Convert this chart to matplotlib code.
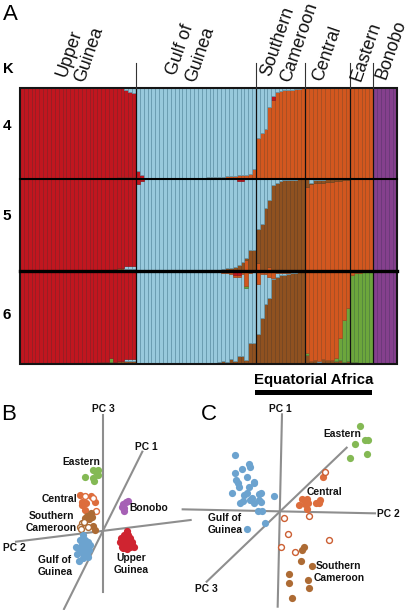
import matplotlib
matplotlib.use('Agg')
import matplotlib.pyplot as plt
from matplotlib.lines import Line2D
from matplotlib.patches import Rectangle
import numpy as np

plt.rcParams['font.family'] = ['Liberation Sans', 'DejaVu Sans']

W, H = 410, 610

# population sizes and the labels above panel A
group_sizes = [30, 31, 13, 11, 6, 6]
group_edges = [20, 136, 256, 305, 350, 373, 397]
k_labels = ['4', '5', '6']

# K = 4, ancestry fractions per individual (blue is what is left)
k4_orange = ([0] * 25 + [.01] * 5
             + [.005] * 18 + [.01, .01, .01, .015, .015, .02, .02, .025, .03, .03, .035, .04, .1]
             + [.44, .50, .55, .79, .87, .96, .97, .98, .98, .98, .985, .99, .995]
             + [.995] * 11 + [1] * 6 + [0] * 6)
k4_red = ([1] * 25 + [.99, .99, .97, .95, .93]
          + [.07, .03] + [0] * 29
          + [0, 0, 0, 0, .04] + [0] * 8
          + [0] * 11 + [0] * 6 + [0] * 6)
k4_purple = [0] * 91 + [1] * 6

# K = 5
k5_orange = ([0] * 56 + [0, 0, .11, 0, 0]
             + [.08, 0, 0, .03] + [0] * 9
             + [.91, .945, .955, .96, .96, .965, .97, .975, .98, .985, .99]
             + [1] * 6 + [0] * 6)
k5_brown = ([0] * 24 + [.01, .02, .02, .01, .01, .01]
            + [0] * 21 + [.005, .01, .02, .02, .03, .05, .09, .02, .22, .22]
            + [.37, .505, .68, .74, .93, .96, .98, .985, .99, .99, .99, .995, .995]
            + [.09, .01, .03, .03, .03, .03, .025, .02, .015, .01, .01]
            + [0] * 6 + [0] * 6)
k5_red = ([1] * 24 + [.99, .98, .98, .96, .96, .96]
          + [.05, .02] + [0] * 24 + [.02, .02] + [0] * 3
          + [0] * 13 + [0] * 11 + [0] * 6 + [0] * 6)
k5_purple = [0] * 91 + [1] * 6

# K = 6
k6_brown = ([0] * 18 + [.005, .005, .01, .01, .01, .01, .015, .02, .02, .02, .02, .02]
            + [0] * 20 + [.005, .01, .02, .01, .04, .02, .08, .08, .03, .22, .22]
            + [.32, .50, .65, .71, .92, .95, .97, .97, .98, .985, .99, .995, 1]
            + [.09, .02, .03, .01, .04, .03, .03, .02, .03, .01, .02]
            + [.01, .01, .005, 0, 0, 0] + [0] * 6)
k6_green = ([0] * 23 + [.04] + [0] * 6
            + [0] * 28 + [.03, 0, 0]
            + [0] * 13
            + [.02, 0, 0, 0, 0, 0, 0, .03, .24, .46, .58]
            + [.96, .975, .985, .995, 1, 1] + [0] * 6)
k6_orange = ([0] * 30
             + [0] * 22 + [.01, .01, .02, .02, .02, .02, .15, .01, 0]
             + [.135, .02, .02, .05, .07, .015, .01, .01, .01, .005, 0, 0, 0]
             + [.89, .98, .97, .975, .96, .97, .97, .95, .73, .53, .40]
             + [.03, .015, .01, .005, 0, 0] + [0] * 6)
k6_red = ([1] * 18 + [.995, .995, .99, .99, .99, .95, .985, .98, .98, .96, .96, .96]
          + [0] * 25 + [.035, .035] + [0] * 4
          + [0] * 13 + [0] * 11 + [0] * 6 + [0] * 6)
k6_purple = [0] * 91 + [1] * 6

c_red, c_blue, c_orange = '#C1161F', '#98C9DC', '#D2571F'
c_brown, c_green, c_purple = '#8F5120', '#6CA63C', '#85408D'
edge_of = {c_red: '#8E1B20', c_blue: '#5F93A8', c_orange: '#A04A1E',
           c_brown: '#6F421E', c_green: '#4F803A', c_purple: '#653373'}

b_eastern = [(256, 246), (280, 225), (293, 225), (295, 240), (278, 250), (282, 258), (287, 232)]
b_central = [(239, 300), (272, 302), (285, 320), (245, 322), (258, 325), (245, 330), (256, 345)]
b_central_open = [(255, 303), (280, 310), (288, 348)]
b_cameroon = [(272, 355), (262, 362), (275, 365), (268, 372), (255, 370), (280, 392), (285, 404)]
b_cameroon_open = [(245, 385), (240, 395), (243, 402), (265, 395), (252, 381)]
b_bonobo = [(385, 317), (378, 322), (370, 327), (365, 335), (372, 340), (372, 349)]
b_upper = [(380, 408), (380, 414), (372, 420), (385, 420), (362, 430), (375, 430), (390, 430),
           (360, 440), (372, 442), (385, 442), (395, 440), (365, 455), (378, 455), (390, 455),
           (402, 455), (368, 460), (382, 462), (395, 450)]
b_gulf = [(250, 420), (240, 435), (255, 435), (265, 440), (228, 455), (245, 450), (258, 450),
          (270, 450), (240, 465), (255, 465), (268, 465), (232, 478), (248, 475), (262, 478),
          (238, 497), (250, 490), (265, 485), (245, 445)]

c_eastern = [(496, 92), (510, 134), (520, 135), (481, 148), (515, 176), (465, 188)]
c_central = [(385, 247), (320, 313), (336, 312), (312, 330), (330, 328), (340, 323),
             (375, 315), (363, 325), (372, 325), (336, 342)]
c_open = [(390, 231), (342, 362), (266, 368), (280, 417), (257, 456), (300, 470), (401, 434)]
c_cameroon = [(327, 456), (322, 465), (319, 497), (350, 513), (283, 536), (339, 555),
              (283, 565), (341, 578), (290, 609)]
c_gulf = [(121, 179), (162, 207), (165, 215), (140, 221), (120, 235), (156, 245), (123, 254),
          (130, 265), (133, 275), (176, 260), (178, 265), (163, 277), (155, 295), (148, 300),
          (110, 295), (198, 293), (192, 298), (238, 302), (145, 318), (135, 323), (165, 315),
          (172, 310), (178, 325), (192, 315), (198, 321), (188, 347), (200, 348), (211, 385),
          (157, 403)]


def px_axes(fig, x0, y0, x1, y1):
    return fig.add_axes([x0 / W, 1 - y1 / H, (x1 - x0) / W, (y1 - y0) / H])


def fig_text(fig, x, y, s, **kw):
    kw.setdefault('ha', 'center')
    kw.setdefault('va', 'center')
    fig.text(x / W, 1 - y / H, s, **kw)


def draw_row(ax, lefts, widths, segments):
    bottom = np.zeros(len(lefts))
    for values, colour in segments:
        values = np.clip(np.array(values, dtype=float), 0, None)
        mask = values > 0.001
        ax.bar(lefts[mask], values[mask], widths[mask], bottom=bottom[mask], align='edge',
               color=colour, edgecolor=edge_of[colour], linewidth=0.5)
        bottom += values
    ax.set_xlim(group_edges[0], group_edges[-1])
    ax.set_ylim(0, 1)
    ax.set_xticks([])
    ax.set_yticks([])
    for e in group_edges[1:-1]:
        ax.axvline(e, color='#111111', lw=0.9, zorder=5)
    for s in ax.spines.values():
        s.set_visible(False)


def scatter(ax, pts, colour, hollow=False):
    xs, ys = zip(*pts)
    if hollow:
        ax.scatter(xs, ys, s=18, facecolor='white', edgecolor=colour, linewidth=1.0, zorder=3)
    else:
        ax.scatter(xs, ys, s=27, color=colour, linewidth=0, zorder=3)


fig = plt.figure(figsize=(W / 100, H / 100), dpi=100)

lefts = np.concatenate([np.linspace(group_edges[i], group_edges[i + 1], n + 1)[:-1]
                        for i, n in enumerate(group_sizes)])
widths = np.concatenate([np.full(n, (group_edges[i + 1] - group_edges[i]) / n)
                         for i, n in enumerate(group_sizes)])

k4_blue = 1 - np.array(k4_orange) - np.array(k4_red) - np.array(k4_purple)
k5_blue = 1 - np.array(k5_orange) - np.array(k5_brown) - np.array(k5_red) - np.array(k5_purple)
k6_blue = (1 - np.array(k6_brown) - np.array(k6_green) - np.array(k6_orange)
           - np.array(k6_red) - np.array(k6_purple))

ax4 = px_axes(fig, 20, 88, 397, 178)
draw_row(ax4, lefts, widths, [(k4_orange, c_orange), (k4_red, c_red),
                              (k4_blue, c_blue), (k4_purple, c_purple)])
ax5 = px_axes(fig, 20, 179, 397, 270)
draw_row(ax5, lefts, widths, [(k5_orange, c_orange), (k5_brown, c_brown),
                              (k5_blue, c_blue), (k5_red, c_red), (k5_purple, c_purple)])
ax6 = px_axes(fig, 20, 272, 397, 363)
draw_row(ax6, lefts, widths, [(k6_brown, c_brown), (k6_blue, c_blue), (k6_green, c_green),
                              (k6_orange, c_orange), (k6_red, c_red), (k6_purple, c_purple)])

# frame and the heavy rules between the K rows
fig.add_artist(Rectangle((20 / W, 1 - 363.5 / H), 377 / W, 275.5 / H, fill=False,
                         edgecolor='#151515', linewidth=1.5))
for y, lw in [(178.5, 1.5), (271, 2.4)]:
    fig.add_artist(Line2D([20 / W, 397 / W], [1 - y / H, 1 - y / H], color='black', lw=lw))
for e in group_edges[1:-1]:
    fig.add_artist(Line2D([e / W, e / W], [1 - 63 / H, 1 - 88 / H], color='#333333', lw=0.8))

# text of panel A
rot = dict(rotation=71, fontsize=12.8, color='#111111')
fig_text(fig, 69, 53, 'Upper', **rot)
fig_text(fig, 89, 54, 'Guinea', **rot)
fig_text(fig, 180, 50, 'Gulf of', **rot)
fig_text(fig, 200, 54, 'Guinea', **rot)
fig_text(fig, 278, 41, 'Southern', **rot)
fig_text(fig, 299, 42, 'Cameroon', **rot)
fig_text(fig, 327, 53, 'Central', **rot)
fig_text(fig, 366, 52, 'Eastern', **rot)
fig_text(fig, 391, 50, 'Bonobo', **rot)

fig_text(fig, 8, 69, 'K', fontsize=10.5, fontweight='bold')
for y, s in zip([126, 216, 315], k_labels):
    fig_text(fig, 7, y, s, fontsize=11, fontweight='bold')

fig_text(fig, 314, 380, 'Equatorial Africa', fontsize=10.8, fontweight='bold')
fig.add_artist(Rectangle((255 / W, 1 - 395 / H), 117 / W, 5 / H, color='black', linewidth=0))

fig_text(fig, 10, 14, 'A', fontsize=16)
fig_text(fig, 9, 414, 'B', fontsize=16)
fig_text(fig, 209, 414, 'C', fontsize=16)

# panel B
ax_b = px_axes(fig, 0, 395, 200, 610)
ax_b.set_xlim(0, 600)
ax_b.set_ylim(645, 0)
ax_b.axis('off')
axis_grey = '#8E8E8E'
ax_b.plot([309, 309], [60, 590], color=axis_grey, lw=1.5, zorder=1)
ax_b.plot([427, 192], [170, 642], color=axis_grey, lw=1.5, zorder=1)
ax_b.plot([48, 572], [440, 375], color=axis_grey, lw=1.5, zorder=1)
scatter(ax_b, b_eastern, '#84B954')
scatter(ax_b, b_central, '#DD6D3C')
scatter(ax_b, b_central_open, '#DD6D3C', hollow=True)
scatter(ax_b, b_cameroon, '#AD6B34')
scatter(ax_b, b_cameroon_open, '#AD6B34', hollow=True)
scatter(ax_b, b_bonobo, '#A660B5')
scatter(ax_b, b_upper, '#CF2430')
scatter(ax_b, b_gulf, '#6CA3CF')

lab = dict(fontsize=7.4, fontweight='bold', color='#111111', ha='center', va='center')
for x, y, s in [(310, 42, 'PC 3'), (438, 157, 'PC 1'), (43, 458, 'PC 2'),
                (245, 200, 'Eastern'), (177, 311, 'Central'), (153, 364, 'Southern'),
                (153, 400, 'Cameroon'), (447, 339, 'Bonobo'), (165, 494, 'Gulf of'),
                (165, 530, 'Guinea'), (393, 489, 'Upper'), (393, 524, 'Guinea')]:
    ax_b.text(x, y, s, **lab)

# panel C
ax_c = px_axes(fig, 195, 395, 410, 610)
ax_c.set_xlim(0, 645)
ax_c.set_ylim(645, 0)
ax_c.axis('off')
ax_c.plot([261, 248], [58, 635], color=axis_grey, lw=1.5, zorder=1)
ax_c.plot([-37, 540], [343, 355], color=axis_grey, lw=1.5, zorder=1, clip_on=False)
ax_c.plot([35, 455], [560, 158], color=axis_grey, lw=1.5, zorder=1)
scatter(ax_c, c_eastern, '#84B954')
scatter(ax_c, c_central, '#DD6D3C')
scatter(ax_c, c_open, '#CC5F33', hollow=True)
scatter(ax_c, c_cameroon, '#AD6B34')
scatter(ax_c, c_gulf, '#6CA3CF')

for x, y, s in [(255, 42, 'PC 1'), (581, 356, 'PC 2'), (33, 581, 'PC 3'),
                (442, 117, 'Eastern'), (390, 290, 'Central'), (90, 369, 'Gulf of'),
                (90, 405, 'Guinea'), (430, 512, 'Southern'), (433, 548, 'Cameroon')]:
    ax_c.text(x, y, s, **lab)

fig.savefig('out.png', dpi=100)
